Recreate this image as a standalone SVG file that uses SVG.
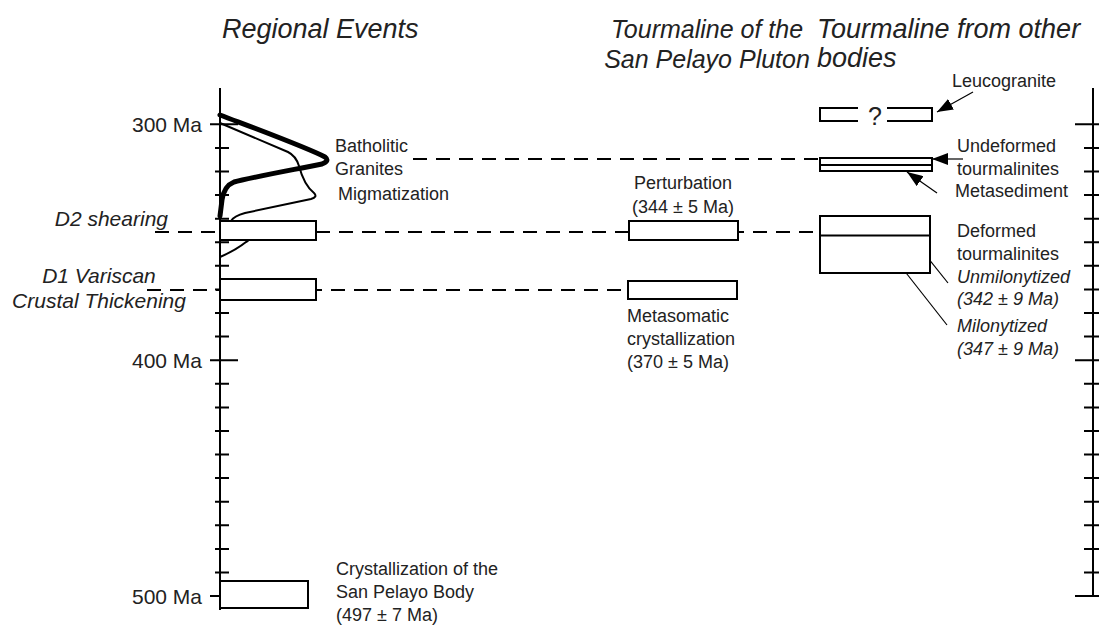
<svg xmlns="http://www.w3.org/2000/svg" width="1099" height="625" viewBox="0 0 1099 625">
<style>
text{font-family:"Liberation Sans",Arial,Helvetica,sans-serif;fill:#222}
.title{font-size:27px;font-style:italic}
.title2{font-size:25px;font-style:italic}
.ax{font-size:21px}
.ev{font-size:21px;font-style:italic}
.lb{font-size:18px}
.it{font-size:18px;font-style:italic}
.box{fill:#fff;stroke:#000;stroke-width:2}
.line{fill:none;stroke:#000;stroke-width:2}
.dash{fill:none;stroke:#000;stroke-width:2;stroke-dasharray:14 9}
.arr{fill:none;stroke:#000;stroke-width:1.2;marker-end:url(#ah)}
</style>
<defs>
<marker id="ah" viewBox="0 0 16 12" refX="16" refY="6" markerWidth="16" markerHeight="12" markerUnits="userSpaceOnUse" orient="auto">
<path d="M0,0 L16,6 L0,12 z" fill="#000"/>
</marker>
</defs>
<rect width="1099" height="625" fill="#fff"/>

<g id="titles">
<text class="title" x="222" y="38">Regional Events</text>
<text class="title2" x="707" y="38" text-anchor="middle">Tourmaline of the</text>
<text class="title2" x="707" y="68" text-anchor="middle">San Pelayo Pluton</text>
<text class="title" x="817" y="38">Tourmaline from other</text>
<text class="title" x="817" y="67">bodies</text>
</g>

<g id="left-axis">
<path class="line" d="M220,88 V610"/>
<path class="line" d="M210,124.3 H238 M210,360.2 H238 M210,596.1 H238"/>
<path class="line" d="M215,147.9 H229 M215,171.5 H229 M215,195.1 H229 M215,218.7 H229 M215,242.3 H229 M215,265.8 H229 M215,289.4 H229 M215,313 H229 M215,336.6 H229 M215,383.8 H229 M215,407.4 H229 M215,431 H229 M215,454.6 H229 M215,478.1 H229 M215,501.7 H229 M215,525.3 H229 M215,548.9 H229 M215,572.5 H229"/>
<text class="ax" x="202" y="131.5" text-anchor="end">300 Ma</text>
<text class="ax" x="202" y="367.5" text-anchor="end">400 Ma</text>
<text class="ax" x="202" y="603.5" text-anchor="end">500 Ma</text>
</g>

<g id="right-axis">
<path class="line" d="M1093,88 V596"/>
<path class="line" d="M1075,124.3 H1099 M1075,360.2 H1099 M1075,596.1 H1099"/>
<path class="line" d="M1084,147.9 H1099 M1084,171.5 H1099 M1084,195.1 H1099 M1084,218.7 H1099 M1084,242.3 H1099 M1084,265.8 H1099 M1084,289.4 H1099 M1084,313 H1099 M1084,336.6 H1099 M1084,383.8 H1099 M1084,407.4 H1099 M1084,431 H1099 M1084,454.6 H1099 M1084,478.1 H1099 M1084,501.7 H1099 M1084,525.3 H1099 M1084,548.9 H1099 M1084,572.5 H1099"/>
</g>

<g id="connectors">
<path class="dash" d="M413,159 H820"/>
<path class="dash" d="M155,232 H820"/>
<path class="dash" d="M147,290 H628"/>
<path class="arr" d="M973,92 L937,112"/>
<path class="arr" d="M963,159 L932,159"/>
<path class="arr" d="M937,193 L907,172"/>
<path class="arr" d="M948,283 L900,223"/>
<path class="arr" d="M947,325 L892,255"/>
</g>

<g id="magmatism-curves">
<path fill="none" stroke="#000" stroke-width="2" d="M220,123 L288,152 Q296,156 299,166 Q304,185 314,193 Q318,197 311,199 L245,213 Q234,216 231,221 C245,228 255,238 246,242 Q236,250 220,257"/>
<path fill="none" stroke="#000" stroke-width="5" stroke-linecap="round" d="M220,115 C262,131 308,148 325,157 Q330,161 322,164 C292,170 248,178 234,182 Q224,186 222,200 L220,216"/>
</g>

<g id="batholitic-granites">
<text class="lb" x="335" y="152">Batholitic</text>
<text class="lb" x="335" y="175">Granites</text>
</g>
<g id="migmatization">
<text class="lb" x="338" y="200">Migmatization</text>
</g>

<g id="d2-shearing">
<rect class="box" x="220" y="221" width="96" height="19"/>
<text class="ev" x="168" y="226" text-anchor="end">D2 shearing</text>
</g>

<g id="d1-variscan">
<rect class="box" x="220" y="279" width="96" height="21"/>
<text class="ev" x="99" y="283" text-anchor="middle">D1 Variscan</text>
<text class="ev" x="99" y="308" text-anchor="middle">Crustal Thickening</text>
</g>

<g id="crystallization">
<rect class="box" x="220" y="581" width="88" height="27"/>
<text class="lb" x="336" y="575">Crystallization of the</text>
<text class="lb" x="336" y="598">San Pelayo Body</text>
<text class="lb" x="336" y="621">(497 ± 7 Ma)</text>
</g>

<g id="perturbation">
<rect class="box" x="629" y="221" width="109" height="19"/>
<text class="lb" x="683" y="189" text-anchor="middle">Perturbation</text>
<text class="lb" x="683" y="213" text-anchor="middle">(344 ± 5 Ma)</text>
</g>

<g id="metasomatic">
<rect class="box" x="628" y="281" width="109" height="18"/>
<text class="lb" x="627" y="322">Metasomatic</text>
<text class="lb" x="627" y="345">crystallization</text>
<text class="lb" x="627" y="368">(370 ± 5 Ma)</text>
</g>

<g id="leucogranite">
<path class="line" d="M858,108 H820 V121 H858 M887,108 H932 V121 H887"/>
<text x="875" y="125" text-anchor="middle" style="font-size:25px">?</text>
<text class="lb" x="952" y="87">Leucogranite</text>
</g>

<g id="undeformed">
<rect class="box" x="820" y="158" width="112" height="13"/>
<path class="line" d="M820,165 H932"/>
<text class="lb" x="957" y="152">Undeformed</text>
<text class="lb" x="957" y="175">tourmalinites</text>
<text class="lb" x="955" y="197">Metasediment</text>
</g>

<g id="deformed">
<rect class="box" x="820" y="216" width="110" height="57"/>
<path class="line" d="M820,235.5 H930"/>
<text class="lb" x="957" y="237">Deformed</text>
<text class="lb" x="957" y="260">tourmalinites</text>
<text class="it" x="957" y="283">Unmilonytized</text>
<text class="it" x="957" y="305">(342 ± 9 Ma)</text>
<text class="it" x="957" y="332">Milonytized</text>
<text class="it" x="957" y="355">(347 ± 9 Ma)</text>
</g>
</svg>
